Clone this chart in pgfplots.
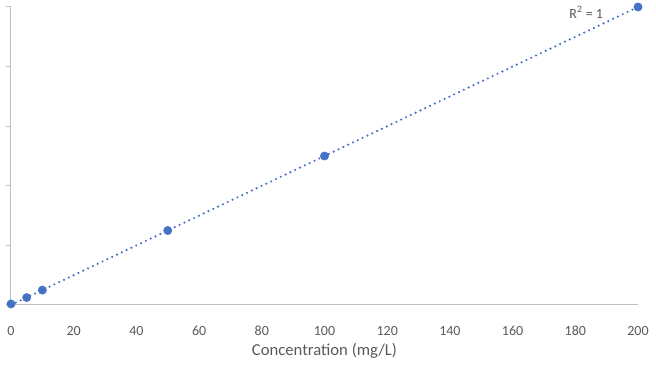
\documentclass[border=0pt]{standalone}
\usepackage{pgfplots}
\pgfplotsset{compat=1.18}
\usepackage{fontspec}
\setmainfont{Carlito}
\definecolor{ser}{HTML}{4472C4}
\definecolor{axg}{HTML}{BFBFBF}
\definecolor{txt}{HTML}{595959}
\begin{document}
\begin{tikzpicture}[x=1pt,y=1pt]
\begin{axis}[
  scale only axis,
  width=470.25pt, height=223.5pt,
  at={(0,0)}, anchor=south west,
  xmin=0, xmax=200, ymin=0, ymax=200,
  axis x line=bottom, axis y line=left,
  axis line style={draw=axg, line width=0.75pt, -},
  xtick={0,20,...,200},
  ytick={0,40,...,200},
  yticklabels={},
  x tick style={draw=none},
  y tick style={draw=axg, line width=0.75pt},
  tick align=outside,
  major tick length=3.75pt,
  tick label style={font=\fontsize{10.5}{12}\selectfont, text=txt},
  /pgf/number format/assume math mode=true,
  xticklabel style={anchor=center, yshift=-15.75pt},
  xlabel={Concentration (mg/L)},
  xlabel style={font=\fontsize{12.5}{14}\selectfont, text=txt, anchor=center, at={(axis description cs:0.5,0)}, yshift=-34.5pt},
  clip=false,
]
\addplot[ser, line width=1.8pt, line cap=round, dash pattern=on 0pt off 4pt] coordinates {(0,0) (200,200)};
\addplot[only marks, mark=*, mark size=3.1pt, mark options={fill=ser, draw=ser}] coordinates {
 (0,0.7) (5,5) (10,10) (50,50) (100,100) (200,200)
};
\node[font=\fontsize{10.5}{12}\selectfont, text=txt] at (axis cs:183.5,196.5) {R\textsuperscript{2} = 1};
\end{axis}
\pgfresetboundingbox
\useasboundingbox (-8.25pt,-48.75pt) rectangle (483.75pt,228.75pt);
\end{tikzpicture}
\end{document}
